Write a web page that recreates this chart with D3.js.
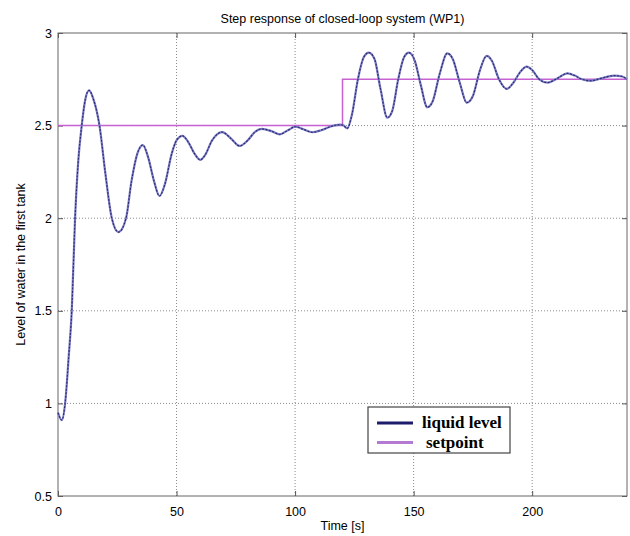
<!DOCTYPE html>
<html>
<head>
<meta charset="utf-8">
<script src="https://cdn.jsdelivr.net/npm/d3@7"></script>
<style>
    body { margin: 0; background: #fff; }
    text { font-family: "Liberation Sans", Arial, sans-serif; fill: #000; }
    .tick-label { font-size: 12.5px; }
    .legend-text { font-family: "Liberation Serif", "Times New Roman", serif; font-weight: bold; font-size: 17px; }
</style>
</head>
<body>
<div id="chart"></div>
<script>
// Time samples of the measured level (s)
var time = [0, 1.6, 3, 4.5, 5.8, 7.2, 8.5, 10, 11.5, 13.1, 15, 17.5, 20, 22.7, 25.5, 28.7, 31, 33.5, 35.8,
    38, 40.5, 42.8, 45, 48, 50, 52.5, 55, 57.5, 60, 62, 65, 69.2, 73, 76.6, 80, 83, 86, 90, 93.5, 97,
    100.1, 103.5, 107.2, 111, 115, 119, 120.5, 122, 124, 126.5, 129, 131.1, 133.5, 136, 138.9, 141,
    143.5, 146, 148, 150.5, 153, 155.8, 158, 161, 164.2, 166.5, 169.5, 172.4, 175, 178, 180.8, 183,
    186, 189.3, 192, 195, 197.7, 200, 203, 206.5, 210, 214.9, 218, 221, 224.8, 229, 234.6, 238, 240];

// Level of water in the first tank
var level = [0.95, 0.91, 1.0, 1.25, 1.5, 2.0, 2.3, 2.5, 2.64, 2.69, 2.64, 2.5, 2.24, 2.0, 1.925, 2.0, 2.2, 2.35, 2.395,
    2.33, 2.2, 2.12, 2.18, 2.35, 2.42, 2.445, 2.41, 2.35, 2.315, 2.34, 2.42, 2.465, 2.43, 2.39, 2.42, 2.465, 2.482, 2.47, 2.453, 2.475,
    2.494, 2.48, 2.464, 2.475, 2.495, 2.505, 2.5, 2.485, 2.56, 2.75, 2.87, 2.894, 2.86, 2.7, 2.543, 2.58,
    2.75, 2.87, 2.894, 2.85, 2.72, 2.599, 2.63, 2.78, 2.89, 2.86, 2.73, 2.624, 2.66, 2.8, 2.876, 2.85,
    2.75, 2.698, 2.73, 2.79, 2.818, 2.8, 2.75, 2.732, 2.75, 2.782, 2.77, 2.75, 2.742, 2.755, 2.77, 2.765, 2.75];

// Setpoint (step at t = 120 s)
var setpointTime = [0, 120, 120, 240];
var setpointLevel = [2.5, 2.5, 2.75, 2.75];

// Tick values
var xTicks = [0, 50, 100, 150, 200];
var yTicks = [0.5, 1, 1.5, 2, 2.5, 3];

// Dimensions
var svgWidth = 630, svgHeight = 536;
var margin = { top: 33, right: 3, bottom: 40, left: 58 };
var width = svgWidth - margin.left - margin.right;
var height = svgHeight - margin.top - margin.bottom;

var svg = d3.select("#chart").append("svg")
    .attr("width", svgWidth)
    .attr("height", svgHeight);

var g = svg.append("g")
    .attr("transform", "translate(" + margin.left + "," + margin.top + ")");

var xScale = d3.scaleLinear().domain([0, 240]).range([0, width]);
var yScale = d3.scaleLinear().domain([0.5, 3]).range([height, 0]);

// Grid (dotted)
g.append("g")
    .selectAll("line")
    .data(xTicks.slice(1))
    .enter().append("line")
    .attr("x1", d => xScale(d)).attr("x2", d => xScale(d))
    .attr("y1", 0).attr("y2", height)
    .attr("stroke", "#8a8a8a").attr("stroke-dasharray", "1,2");

g.append("g")
    .selectAll("line")
    .data(yTicks.slice(1, -1))
    .enter().append("line")
    .attr("y1", d => yScale(d)).attr("y2", d => yScale(d))
    .attr("x1", 0).attr("x2", width)
    .attr("stroke", "#8a8a8a").attr("stroke-dasharray", "1,2");

// Axes (ticks inside, like matlab)
var fmt = d => String(d);
var xAxis = g.append("g")
    .attr("transform", "translate(0," + height + ")")
    .call(d3.axisBottom(xScale).tickValues(xTicks).tickFormat(fmt).tickSizeInner(-5).tickSizeOuter(0).tickPadding(11));
var yAxis = g.append("g")
    .call(d3.axisLeft(yScale).tickValues(yTicks).tickFormat(fmt).tickSizeInner(-5).tickSizeOuter(0).tickPadding(6));
var xAxisTop = g.append("g")
    .call(d3.axisTop(xScale).tickValues(xTicks).tickSizeInner(-5).tickSizeOuter(0).tickFormat(""));
var yAxisRight = g.append("g")
    .attr("transform", "translate(" + width + ",0)")
    .call(d3.axisRight(yScale).tickValues(yTicks).tickSizeInner(-5).tickSizeOuter(0).tickFormat(""));

[xAxis, yAxis, xAxisTop, yAxisRight].forEach(function (a) {
    a.select(".domain").remove();
    a.selectAll("line").attr("stroke", "#555");
    a.selectAll("text").attr("class", "tick-label").attr("font-family", null).attr("font-size", null);
});

// Box around plot
g.append("rect")
    .attr("width", width).attr("height", height)
    .attr("fill", "none").attr("stroke", "#666");

// Lines
var line = d3.line()
    .x(d => xScale(d[0]))
    .y(d => yScale(d[1]))
    .curve(d3.curveMonotoneX);

var setLine = d3.line()
    .x(d => xScale(d[0]))
    .y(d => yScale(d[1]));

var setpointData = setpointTime.map((t, i) => [t, setpointLevel[i]]);
var levelData = time.map((t, i) => [t, level[i]]);

g.append("path")
    .datum(setpointData)
    .attr("d", setLine)
    .attr("fill", "none")
    .attr("stroke", "#c862d2")
    .attr("stroke-width", 1.5);

g.append("path")
    .datum(levelData)
    .attr("d", line)
    .attr("fill", "none")
    .attr("stroke", "#7a7ac4")
    .attr("stroke-width", 2.2);

g.append("path")
    .datum(levelData)
    .attr("d", line)
    .attr("fill", "none")
    .attr("stroke", "#2a2a70")
    .attr("stroke-width", 1.1)
    .attr("stroke-dasharray", "2,1.5");

// Titles
svg.append("text")
    .attr("x", margin.left + width / 2)
    .attr("y", 23)
    .attr("text-anchor", "middle")
    .style("font-size", "12.5px")
    .text("Step response of closed-loop system (WP1)");

svg.append("text")
    .attr("x", margin.left + width / 2)
    .attr("y", 530)
    .attr("text-anchor", "middle")
    .style("font-size", "12.5px")
    .text("Time [s]");

svg.append("text")
    .attr("transform", "rotate(-90)")
    .attr("x", -(margin.top + height / 2))
    .attr("y", 25)
    .attr("text-anchor", "middle")
    .style("font-size", "12.5px")
    .text("Level of water in the first tank");

// Legend
var legend = svg.append("g").attr("transform", "translate(368,407)");
legend.append("rect")
    .attr("width", 142).attr("height", 46)
    .attr("fill", "#fff").attr("stroke", "#444").attr("stroke-width", 1.2);

var legendItems = [["liquid level", "#1c1c6a"], ["setpoint", "#b47ad2"]];
legendItems.forEach(function (item, i) {
    var y = 16 + i * 19.5;
    legend.append("line")
        .attr("x1", 9).attr("x2", 45)
        .attr("y1", y).attr("y2", y)
        .attr("stroke", item[1]).attr("stroke-width", 3);
    legend.append("text")
        .attr("class", "legend-text")
        .attr("x", i == 0 ? 54 : 58)
        .attr("y", y + 5)
        .text(item[0]);
});
</script>
</body>
</html>
